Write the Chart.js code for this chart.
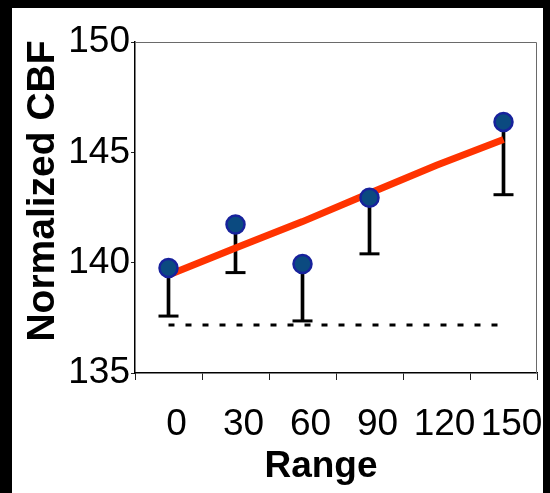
<!DOCTYPE html>
<html lang="en">
<head>
    <meta charset="UTF-8">
    <title>Normalized CBF vs Range</title>
    <script src="https://cdn.jsdelivr.net/npm/chart.js@4.4.1/dist/chart.umd.min.js"></script>
    <style>
        html, body { margin: 0; padding: 0; background: #fff; }
        #wrap { width: 550px; height: 493px; }
    </style>
</head>
<body>
    <div id="wrap"><canvas id="cbfChart" width="550" height="493"></canvas></div>
    <script>
        // data
        const rangeLabels = ['0', '30', '60', '90', '120', '150'];
        const meanCBF = [139.76, 141.73, 139.94, 142.94, null, 146.38];
        const lowerCBF = [137.58, 139.55, 137.36, 140.40, null, 143.08];
        const trendCBF = [139.44, 140.66, 141.86, 143.15, 144.41, 145.58];
        const baselineCBF = [137.17, 137.17, 137.17, 137.17, 137.17, 137.17];
        const yTicks = [135, 140, 145, 150];

        const FONT = "'Liberation Sans', Arial, Helvetica, sans-serif";

        // stems of the error bars as floating bars
        const stemData = meanCBF.map((v, i) => (v == null ? null : [lowerCBF[i], v]));

        // white page, plot frame, axis titles, black border strips
        const framePlugin = {
            id: 'frame',
            beforeDraw(chart) {
                const ctx = chart.ctx;
                ctx.save();
                ctx.fillStyle = '#fff';
                ctx.fillRect(0, 0, chart.width, chart.height);
                ctx.restore();
            },
            beforeDatasetsDraw(chart) {
                const { ctx, chartArea: a } = chart;
                ctx.save();
                ctx.strokeStyle = '#6a6a6a';
                ctx.lineWidth = 1;
                ctx.beginPath();
                ctx.moveTo(a.left, a.top + 0.5);
                ctx.lineTo(a.right - 0.5, a.top + 0.5);
                ctx.lineTo(a.right - 0.5, a.bottom);
                ctx.stroke();
                ctx.restore();
            },
            afterDraw(chart) {
                const ctx = chart.ctx;
                ctx.save();
                ctx.fillStyle = '#000';
                ctx.textAlign = 'center';
                ctx.textBaseline = 'middle';

                ctx.font = 'bold 37px ' + FONT;
                ctx.fillText('Range', 321, 467);

                ctx.translate(43, 191);
                ctx.rotate(-Math.PI / 2);
                ctx.font = 'bold 39px ' + FONT;
                ctx.fillText('Normalized CBF', 0, 0);
                ctx.restore();

                ctx.save();
                ctx.fillStyle = '#000';
                ctx.fillRect(0, 0, 12, chart.height);
                ctx.fillRect(0, 0, chart.width, 8);
                ctx.fillRect(543, 0, chart.width - 543, chart.height);
                ctx.restore();
            }
        };

        const ctx = document.getElementById('cbfChart').getContext('2d');

        new Chart(ctx, {
            type: 'bar',
            data: {
                labels: rangeLabels,
                datasets: [
                    {
                        label: 'Mean',
                        type: 'line',
                        data: meanCBF,
                        showLine: false,
                        pointRadius: 9,
                        pointBackgroundColor: '#0b4a80',
                        pointBorderColor: '#17229c',
                        pointBorderWidth: 2.5,
                        order: 1
                    },
                    {
                        label: 'Trend',
                        type: 'line',
                        data: trendCBF,
                        borderColor: '#ff3300',
                        borderWidth: 7,
                        pointRadius: 0,
                        tension: 0,
                        order: 2
                    },
                    {
                        label: 'Error cap',
                        type: 'line',
                        data: lowerCBF,
                        showLine: false,
                        pointStyle: 'line',
                        pointRadius: 10,
                        pointBorderColor: '#000',
                        pointBorderWidth: 3,
                        order: 3
                    },
                    {
                        label: 'Error stem',
                        data: stemData,
                        backgroundColor: '#000',
                        borderWidth: 0,
                        barThickness: 3,
                        order: 4
                    },
                    {
                        label: 'Baseline',
                        type: 'line',
                        data: baselineCBF,
                        borderColor: '#000',
                        borderWidth: 3,
                        borderDash: [6, 11],
                        pointRadius: 0,
                        order: 5
                    }
                ]
            },
            options: {
                responsive: false,
                devicePixelRatio: 1,
                animation: false,
                layout: { padding: { top: 42, right: 5, left: 0, bottom: 0 } },
                plugins: {
                    legend: { display: false },
                    tooltip: { enabled: false }
                },
                scales: {
                    x: {
                        type: 'category',
                        offset: true,
                        grid: {
                            offset: true,
                            drawOnChartArea: false,
                            drawTicks: true,
                            tickLength: 7,
                            color: '#222',
                            lineWidth: 1
                        },
                        border: { color: '#000', width: 1.5 },
                        ticks: {
                            color: '#000',
                            font: { family: FONT, size: 37 },
                            padding: 23,
                            labelOffset: 8,
                            maxRotation: 0,
                            autoSkip: false
                        },
                        afterFit(scale) {
                            scale.height = 120;
                            scale.paddingLeft = 0;
                            scale.paddingRight = 0;
                        }
                    },
                    y: {
                        min: 135,
                        max: 150,
                        grid: {
                            drawOnChartArea: false,
                            drawTicks: true,
                            tickLength: 4,
                            color: '#222',
                            lineWidth: 1
                        },
                        border: { color: '#000', width: 1.5 },
                        ticks: {
                            color: '#000',
                            font: { family: FONT, size: 37 },
                            padding: 1
                        },
                        afterBuildTicks(scale) {
                            scale.ticks = yTicks.map(v => ({ value: v }));
                        },
                        afterFit(scale) {
                            scale.width = 135;
                            scale.paddingTop = 0;
                            scale.paddingBottom = 0;
                        }
                    }
                }
            },
            plugins: [framePlugin]
        });
    </script>
</body>
</html>
